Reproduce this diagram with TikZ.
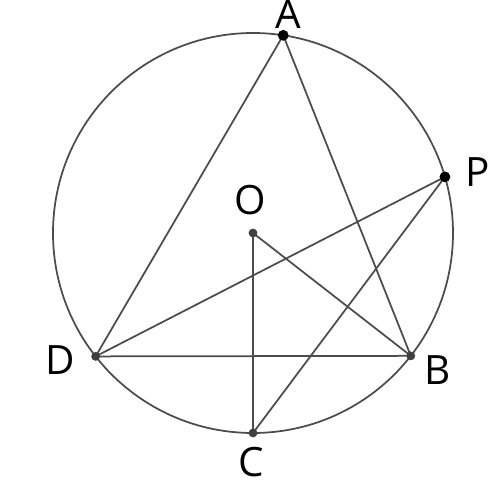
\documentclass[tikz,border=0pt]{standalone}
\usepackage{fontspec}
\setmainfont{Open Sans}
\usetikzlibrary{calc}
\tikzset{
	seg/.style={line width=0.35mm, color=black!70},
	lbl/.style={font=\fontsize{23}{23}\selectfont, inner sep=0pt},
}

\begin{document}
\begin{tikzpicture}
			%%%%% START %%%%%
			\useasboundingbox (-5.06, -5.18) rectangle (4.92, 4.66);
			
			\coordinate (O) at (0, 0);
			\coordinate (A) at (81.3:4);
			\coordinate (P) at (16.3:4);
			\coordinate (B) at (-37.9:4);
			\coordinate (C) at (-90:4);
			\coordinate (D) at (218.1:4);
			
			\draw[seg] (O) circle (4);
			
			\draw[seg] (A) -- (D) -- (B) -- cycle;
			\draw[seg] (D) -- (P) -- (C);
			\draw[seg] (B) -- (O) -- (C);
			
			\draw[fill=black] (A) circle (0.1);
			\draw[fill=black] (P) circle (0.1);
			\draw[fill=black!75, draw=black!75] (O) circle (0.08);
			\draw[fill=black!75, draw=black!75] (B) circle (0.08);
			\draw[fill=black!75, draw=black!75] (C) circle (0.08);
			\draw[fill=black!75, draw=black!75] (D) circle (0.08);
			
			\node[lbl] (lA) at (0.70, 4.38) {A};
			\node[lbl] (lO) at (-0.06, 0.66) {O};
			\node[lbl] (lD) at (-3.86, -2.54) {D};
			\node[lbl] (lP) at (4.50, 1.22) {P};
			\node[lbl] (lC) at (-0.04, -4.58) {C};
			\node[lbl] (lB) at (3.70, -2.74) {B};
			
			%%%%% END %%%%%
		\end{tikzpicture}
\end{document}
